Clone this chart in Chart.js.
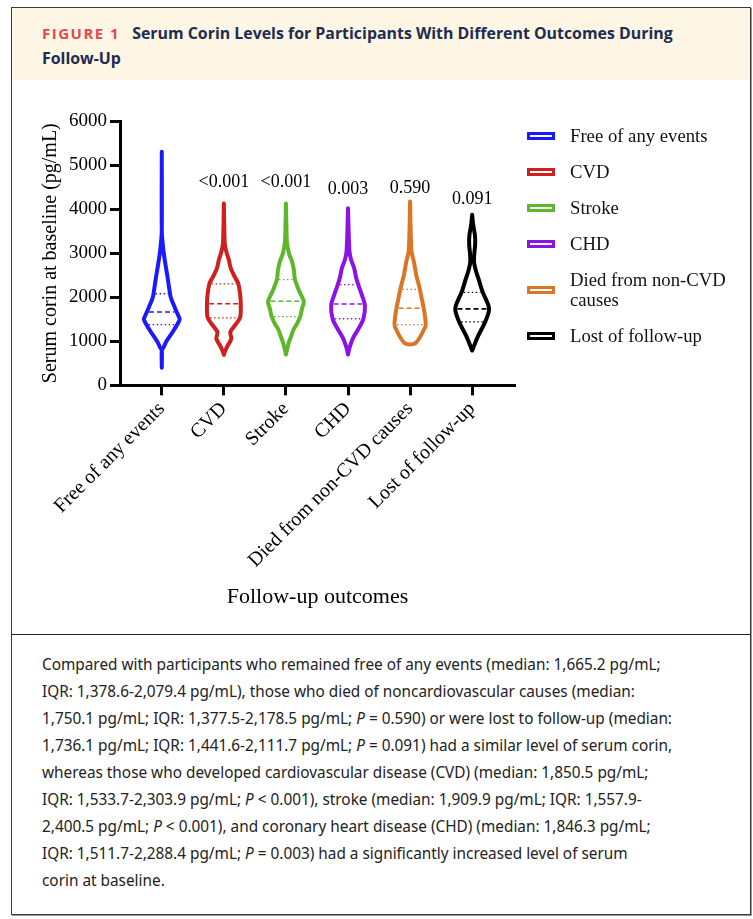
<!DOCTYPE html>
<html>
<head>
<meta charset="utf-8">
<script src="https://cdn.jsdelivr.net/npm/chart.js@4.4.1/dist/chart.umd.min.js"></script>
<style>
  body { margin: 0; background: #fff; }
  #frame { position: absolute; left: 11px; top: 7px; width: 738px; height: 906px; border: 1px solid #3a3a3a; box-shadow: 1px 1px 0 #999; }
  #head { height: 72px; background: #fdf6e4; box-sizing: border-box; padding: 13px 0 0 30px; font-family: "Open Sans", sans-serif; font-weight: bold; font-size: 15.9px; line-height: 25px; color: #1d2c52; }
  #head .fig { color: #e8474f; letter-spacing: 1.5px; font-size: 15px; margin-right: 12px; }
  #plot { position: absolute; left: 0; top: 73px; width: 738px; height: 552px; }
  #legend { position: absolute; left: 515px; top: 118px; font-family: "Liberation Serif", serif; font-size: 18.7px; line-height: 20px; color: #111; }
  #legend .item { display: flex; align-items: center; margin-bottom: 16px; white-space: pre-line; }
  #legend .box { width: 28px; height: 8px; box-sizing: border-box; border: 3px solid; background: #fff; margin-right: 15px; flex: none; }
  #divider { position: absolute; left: 0; top: 626px; width: 738px; border-top: 1px solid #222; }
  #caption { position: absolute; left: 0; top: 627px; padding: 15.5px 0 0 30px; font-family: "Noto Sans", sans-serif; font-size: 15.35px; line-height: 27px; color: #222; white-space: nowrap; }
</style>
</head>
<body>
<div id="frame">
  <div id="head"><span class="fig">FIGURE 1</span>Serum Corin Levels for Participants With Different Outcomes During<br>Follow-Up</div>
  <div id="plot"><canvas id="violinChart"></canvas></div>
  <div id="legend"></div>
  <div id="divider"></div>
  <div id="caption">
    Compared with participants who remained free of any events (median: 1,665.2 pg/mL;<br>
    IQR: 1,378.6-2,079.4 pg/mL), those who died of noncardiovascular causes (median:<br>
    1,750.1 pg/mL; IQR: 1,377.5-2,178.5 pg/mL; <i>P</i> = 0.590) or were lost to follow-up (median:<br>
    1,736.1 pg/mL; IQR: 1,441.6-2,111.7 pg/mL; <i>P</i> = 0.091) had a similar level of serum corin,<br>
    whereas those who developed cardiovascular disease (CVD) (median: 1,850.5 pg/mL;<br>
    IQR: 1,533.7-2,303.9 pg/mL; <i>P</i> &lt; 0.001), stroke (median: 1,909.9 pg/mL; IQR: 1,557.9-<br>
    2,400.5 pg/mL; <i>P</i> &lt; 0.001), and coronary heart disease (CHD) (median: 1,846.3 pg/mL;<br>
    IQR: 1,511.7-2,288.4 pg/mL; <i>P</i> = 0.003) had a significantly increased level of serum<br>
    corin at baseline.
  </div>
</div>
<script>
'use strict'

// categories (x axis) and legend text
var categories = ['Free of any events', 'CVD', 'Stroke', 'CHD', 'Died from non-CVD causes', 'Lost of follow-up'];
var legendLabels = ['Free of any events', 'CVD', 'Stroke', 'CHD', 'Died from non-CVD\ncauses', 'Lost of follow-up'];
var colors = ['#1a1aff', '#d01f1f', '#5cb82a', '#8c12e8', '#dc7627', '#000000'];

// violin outlines: [corin value, half width in category units], top to bottom
var freeShape = [[5300, 0], [3500, 0], [3200, 0.016], [3000, 0.032], [2700, 0.064], [2500, 0.088], [2200, 0.12], [2000, 0.144], [1800, 0.2], [1600, 0.26], [1500, 0.288], [1400, 0.256], [1200, 0.17], [1000, 0.075], [850, 0.024], [800, 0], [400, 0]];
var cvdShape = [[4130, 0], [3500, 0.008], [3200, 0.016], [3034, 0.04], [2850, 0.08], [2654, 0.112], [2450, 0.18], [2312, 0.232], [2046, 0.264], [1841, 0.272], [1551, 0.264], [1400, 0.2], [1209, 0.104], [1057, 0.12], [867, 0.048], [760, 0.016], [690, 0]];
var strokeShape = [[4130, 0], [3600, 0.008], [3250, 0.016], [3000, 0.048], [2800, 0.1], [2600, 0.13], [2430, 0.141], [2300, 0.17], [2160, 0.208], [1900, 0.288], [1750, 0.26], [1590, 0.236], [1400, 0.18], [1285, 0.128], [1100, 0.08], [980, 0.048], [800, 0.016], [700, 0]];
var chdShape = [[4020, 0], [3600, 0.008], [3034, 0.024], [2850, 0.05], [2654, 0.1], [2450, 0.13], [2274, 0.168], [2046, 0.224], [1818, 0.272], [1513, 0.248], [1285, 0.168], [1057, 0.075], [850, 0.024], [700, 0]];
var diedShape = [[4175, 0], [3600, 0.008], [3034, 0.024], [2806, 0.061], [2502, 0.1], [2198, 0.155], [1950, 0.19], [1742, 0.221], [1437, 0.25], [1330, 0.245], [960, 0.088]];
var lostShape = [[3870, 0], [3650, 0.016], [3400, 0.045], [3190, 0.048], [3000, 0.035], [2806, 0.03], [2600, 0.06], [2426, 0.1], [2122, 0.168], [1742, 0.272], [1437, 0.208], [1133, 0.1], [900, 0.03], [790, 0]];
var shapes = [freeShape, cvdShape, strokeShape, chdShape, diedShape, lostShape];

// medians and IQR (pg/mL)
var medians = [1665.2, 1850.5, 1909.9, 1846.3, 1750.1, 1736.1];
var q1 = [1378.6, 1533.7, 1557.9, 1511.7, 1377.5, 1441.6];
var q3 = [2079.4, 2303.9, 2400.5, 2288.4, 2178.5, 2111.7];

// P values vs. free of any events, and the height they sit at
var pValues = ['', '<0.001', '<0.001', '0.003', '0.590', '0.091'];
var pLabelY = [null, 4610, 4610, 4450, 4470, 4230];

var serif = '"Liberation Serif", "Times New Roman", serif';

// half width of a violin at a given value (linear between outline points)
function widthAt(shape, v) {
    for (var k = 0; k < shape.length - 1; k++) {
        var a = shape[k], b = shape[k + 1];
        if (v <= a[0] && v >= b[0]) {
            return a[1] + (b[1] - a[1]) * (a[0] - v) / (a[0] - b[0]);
        }
    }
    return 0;
}

function violinDataSet(i) {
    var s = shapes[i];
    var right = s.map(function (p) { return { x: i + p[1], y: p[0] }; });
    var left = s.slice().reverse().map(function (p) { return { x: i - p[1], y: p[0] }; });
    return {
        label: categories[i],
        data: right.concat(left),
        showLine: true,
        borderColor: colors[i],
        borderWidth: 4,
        borderJoinStyle: 'round',
        borderCapStyle: 'round',
        tension: 0.3,
        pointRadius: 0,
        fill: false
    };
}

function quartileDataSet(i, v, dash, width) {
    var hw = Math.max(widthAt(shapes[i], v) - 0.035, 0.02);
    return {
        data: [{ x: i - hw, y: v }, { x: i + hw, y: v }],
        showLine: true,
        borderColor: colors[i],
        borderWidth: width,
        borderDash: dash,
        tension: 0,
        pointRadius: 0,
        fill: false
    };
}

var dataSets = [];
for (var i = 0; i < categories.length; i++) {
    dataSets.push(violinDataSet(i));
}
for (var i = 0; i < categories.length; i++) {
    dataSets.push(quartileDataSet(i, medians[i], [5, 3], 1.6));
    dataSets.push(quartileDataSet(i, q1[i], [1.5, 2.5], 1.3));
    dataSets.push(quartileDataSet(i, q3[i], [1.5, 2.5], 1.3));
}

// P value text above each violin
var pLabelPlugin = {
    id: 'pLabels',
    afterDatasetsDraw: function (chart) {
        var ctx = chart.ctx;
        var xs = chart.scales.x, ys = chart.scales.y;
        ctx.save();
        ctx.font = '18px ' + serif;
        ctx.fillStyle = '#000';
        ctx.textAlign = 'center';
        ctx.textBaseline = 'middle';
        pValues.forEach(function (p, i) {
            if (!p) return;
            ctx.fillText(p, xs.getPixelForValue(i), ys.getPixelForValue(pLabelY[i]));
        });
        ctx.restore();
    }
};

new Chart(document.getElementById('violinChart'), {
    type: 'scatter',
    data: { datasets: dataSets },
    plugins: [pLabelPlugin],
    options: {
        responsive: true,
        maintainAspectRatio: false,
        animation: false,
        layout: { padding: { left: 27, right: 235, top: 40, bottom: 23 } },
        plugins: {
            legend: { display: false },
            tooltip: { enabled: false }
        },
        scales: {
            x: {
                type: 'linear',
                min: -0.673,
                max: 5.69,
                afterBuildTicks: function (axis) {
                    axis.ticks = categories.map(function (c, i) { return { value: i }; });
                },
                ticks: {
                    autoSkip: false,
                    minRotation: 45,
                    maxRotation: 45,
                    padding: 2,
                    color: '#000',
                    font: { family: serif, size: 20 },
                    callback: function (value) { return categories[value]; }
                },
                grid: { drawOnChartArea: false, drawTicks: true, tickLength: 10, tickWidth: 3, tickColor: '#000' },
                border: { color: '#000', width: 3 },
                title: { display: true, text: 'Follow-up outcomes', color: '#000', font: { family: serif, size: 22 }, padding: { top: 9, bottom: 0 } }
            },
            y: {
                min: 0,
                max: 6000,
                ticks: {
                    stepSize: 1000,
                    padding: 3,
                    color: '#000',
                    font: { family: serif, size: 19 },
                    callback: function (value) { return String(value); }
                },
                grid: { drawOnChartArea: false, drawTicks: true, tickLength: 10, tickWidth: 3, tickColor: '#000' },
                border: { color: '#000', width: 3 },
                title: { display: true, text: 'Serum corin at baseline (pg/mL)', color: '#000', font: { family: serif, size: 20 }, padding: { top: 0, bottom: 3 } }
            }
        }
    }
});

// legend built from the same arrays
var legendBox = document.getElementById('legend');
legendLabels.forEach(function (text, i) {
    var item = document.createElement('div');
    item.className = 'item';
    var box = document.createElement('span');
    box.className = 'box';
    box.style.borderColor = colors[i];
    var label = document.createElement('span');
    label.textContent = text;
    item.appendChild(box);
    item.appendChild(label);
    legendBox.appendChild(item);
});
</script>
</body>
</html>
